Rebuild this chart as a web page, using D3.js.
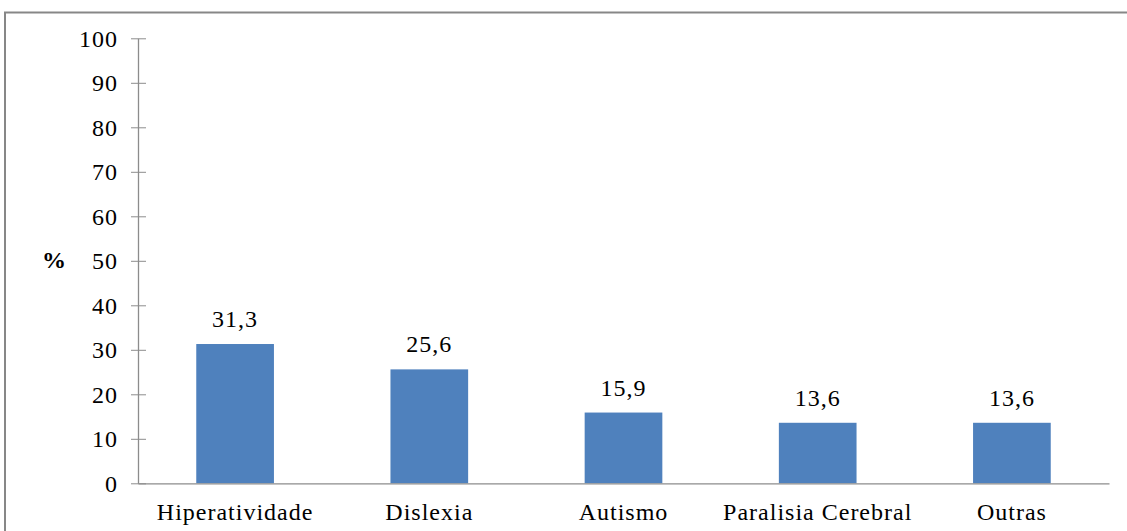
<!DOCTYPE html>
<html>
<head>
<meta charset="utf-8">
<script src="https://cdn.jsdelivr.net/npm/d3@7"></script>
<style>
  body { margin: 0; background: #fff; }
</style>
</head>
<body>
<div id="chart"></div>
<script>
// data
const categories = ["Hiperatividade", "Dislexia", "Autismo", "Paralisia Cerebral", "Outras"];
const values = [31.3, 25.6, 15.9, 13.6, 13.6];
const yTicks = [0, 10, 20, 30, 40, 50, 60, 70, 80, 90, 100];

const width = 1127, height = 531;
const plotLeft = 138, plotRight = 1109, plotTop = 38.3, plotBottom = 483.3;
const serif = "'Liberation Serif', 'Times New Roman', serif";

const svg = d3.select("#chart").append("svg")
    .attr("width", width)
    .attr("height", height)
    .style("display", "block");

// outer frame (right and bottom run off the picture)
svg.append("rect")
    .attr("x", 5).attr("y", 12.5)
    .attr("width", 1140).attr("height", 540)
    .attr("fill", "none")
    .attr("stroke", "#878787")
    .attr("stroke-width", 2);

const x = d3.scaleBand()
    .domain(categories)
    .range([plotLeft, plotRight])
    .paddingInner(0.6)
    .paddingOuter(0.3);

const y = d3.scaleLinear()
    .domain([0, 100])
    .range([plotBottom, plotTop]);

// bars
svg.append("g")
    .selectAll("rect")
    .data(values)
    .join("rect")
    .attr("x", (d, i) => x(categories[i]))
    .attr("y", d => y(d))
    .attr("width", x.bandwidth())
    .attr("height", d => y(0) - y(d))
    .attr("fill", "#4f81bd");

// value labels
svg.append("g")
    .selectAll("text")
    .data(values)
    .join("text")
    .attr("x", (d, i) => x(categories[i]) + x.bandwidth() / 2)
    .attr("y", d => y(d) - 17)
    .attr("text-anchor", "middle")
    .style("font-family", serif)
    .style("font-size", "24px")
    .style("letter-spacing", "1px")
    .attr("fill", "#000")
    .text(d => d.toFixed(1).replace(".", ","));

// y axis: ticks cross the line
const yAxis = svg.append("g")
    .attr("transform", `translate(${plotLeft},0)`)
    .call(d3.axisLeft(y).tickValues(yTicks).tickSize(7).tickPadding(13).tickSizeOuter(0));
yAxis.select(".domain").attr("stroke", "#8c8c8c").attr("stroke-width", 1.3);
yAxis.selectAll(".tick line").attr("stroke", "#8c8c8c").attr("x2", 8).attr("x1", -7);
yAxis.selectAll(".tick text")
    .attr("dy", "0.34em")
    .style("font-family", serif)
    .style("font-size", "24px")
    .style("letter-spacing", "1px")
    .attr("fill", "#000");

// x axis
const xAxis = svg.append("g")
    .attr("transform", `translate(0,${plotBottom})`)
    .call(d3.axisBottom(x).tickSize(0).tickPadding(20));
xAxis.select(".domain").attr("stroke", "#8c8c8c").attr("stroke-width", 1.3);
xAxis.selectAll(".tick text")
    .style("font-family", serif)
    .style("font-size", "24px")
    .style("letter-spacing", "1px")
    .attr("fill", "#000");

// y axis title
svg.append("text")
    .attr("x", 54)
    .attr("y", 268)
    .attr("text-anchor", "middle")
    .style("font-family", serif)
    .style("font-size", "24px")
    .style("font-weight", "bold")
    .text("%");
</script>
</body>
</html>
